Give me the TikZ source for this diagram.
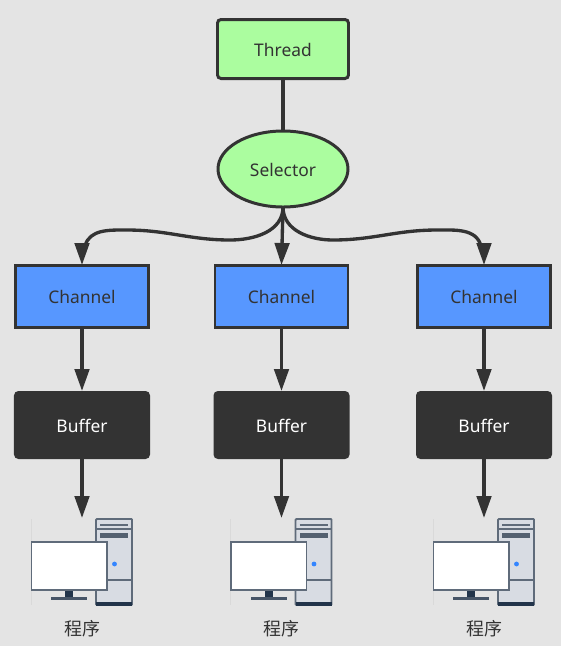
\documentclass[tikz,border=0pt]{standalone}
\usepackage{fontspec}
\setmainfont{Noto Sans}
\newfontfamily\cjk{Noto Sans CJK SC}
\usetikzlibrary{shapes.geometric, arrows.meta, positioning}
\definecolor{bggrey}{HTML}{E4E4E4}
\definecolor{ink}{HTML}{333333}
\definecolor{mint}{HTML}{ABFD9F}
\definecolor{azure}{HTML}{5797FF}
\definecolor{slate}{HTML}{5F6B7A}
\definecolor{navy}{HTML}{22344A}
\definecolor{tower}{HTML}{D8DCE3}
\tikzstyle{arrow} = [line width=1.9pt,draw=ink,-{Triangle[length=0.44cm,width=0.29cm]}]
\tikzstyle{link} = [line width=1.9pt,draw=ink]
\tikzstyle{base} = [outer sep=0pt,inner sep=0pt,text height=8.5pt,text depth=0pt,font=\fontsize{9.9}{12}\selectfont,text=ink]
\tikzstyle{thread} = [base,draw=ink,line width=1.7pt,fill=mint,rounded corners=2pt,minimum width=2.62cm,minimum height=1.18cm]
\tikzstyle{selector} = [base,ellipse,draw=ink,line width=1.7pt,fill=mint,minimum width=2.6cm,minimum height=1.52cm]
\tikzstyle{channel} = [base,draw=ink,line width=1.7pt,fill=azure,minimum width=2.66cm,minimum height=1.24cm]
\tikzstyle{buffer} = [base,fill=ink,text=white,rounded corners=2.5pt,minimum width=2.72cm,minimum height=1.36cm]
\tikzstyle{host} = [base,minimum width=2.04cm,minimum height=1.74cm]
\tikzstyle{caption} = [base,font=\fontsize{10.2}{12}\selectfont\cjk]
\tikzset{
  computer/.pic={
    \begin{scope}[x=0.02cm,y=-0.02cm]
      \draw[black!15,line width=0.5pt] (0,1) -- (0,87);
      \draw[slate,fill=tower,line width=1.1pt,rounded corners=0.5pt] (65,1) rectangle (101,87);
      \draw[slate,line width=0.8pt] (65,11) -- (101,11);
      \draw[slate,line width=0.8pt] (65,62) -- (101,62);
      \draw[slate,line width=1.3pt] (69,7) -- (97,7);
      \fill[slate!80!navy] (69,15) rectangle (97,19.5);
      \fill[navy] (65,84) rectangle (101,87.5);
      \fill[blue!60!cyan!80] (83.5,46) circle (2.4);
      \draw[slate,fill=white,line width=1.1pt] (0.5,24) rectangle (76,72);
      \fill[navy] (34,73) rectangle (42,79);
      \fill[slate!60!navy] (20,79) rectangle (56,81.5);
    \end{scope}
  }
}
\begin{document}
\begin{tikzpicture}
    \useasboundingbox[fill=bggrey] (0,0) rectangle (11.22,-12.92);
    \node[thread] (T) at (5.66,-0.98) {Thread};
    \node[selector, below of=T, node distance=2.4cm] (S) {Selector};
    \node[channel, below of=S, xshift=-0.03cm, node distance=2.54cm] (C2) {Channel};
    \node[channel, left of=C2, node distance=3.99cm] (C1) {Channel};
    \node[channel, right of=C2, node distance=4.05cm] (C3) {Channel};
    \node[buffer, below of=C1, node distance=2.58cm] (B1) {Buffer};
    \node[buffer, below of=C2, node distance=2.58cm] (B2) {Buffer};
    \node[buffer, below of=C3, node distance=2.58cm] (B3) {Buffer};
    \node[host, below of=B1, node distance=2.73cm] (P1) {};
    \node[host, below of=B2, node distance=2.73cm] (P2) {};
    \node[host, below of=B3, node distance=2.73cm] (P3) {};
    \node[caption, below of=P1, node distance=1.33cm] (N1) {程序};
    \node[caption, below of=P2, node distance=1.33cm] (N2) {程序};
    \node[caption, below of=P3, node distance=1.33cm] (N3) {程序};
    \pic at (P1.north west) {computer};
    \pic at (P2.north west) {computer};
    \pic at (P3.north west) {computer};
    \coordinate (L1) at (4.6,-4.8);
    \coordinate (L2) at (2.54,-4.6);
    \coordinate (L3) at (1.7,-4.92);
    \coordinate (R1) at (6.66,-4.8);
    \coordinate (R2) at (8.74,-4.6);
    \coordinate (R3) at (9.62,-4.92);
    \coordinate[above=0.44cm of C1.north] (H1);
    \coordinate[above=0.44cm of C3.north] (H3);
    \draw[link] (T) -- (S);
    \draw[link] (S.south) to[out=-90,in=0] (L1) to[out=180,in=0] (L2) to[out=180,in=75] (L3);
    \draw[arrow] (H1) -- (C1.north);
    \draw[arrow] (S.south) -- (C2.north);
    \draw[link] (S.south) to[out=-90,in=180] (R1) to[out=0,in=180] (R2) to[out=0,in=105] (R3);
    \draw[arrow] (H3) -- (C3.north);
    \draw[arrow] (C1) -- (B1);
    \draw[arrow] (C2) -- (B2);
    \draw[arrow] (C3) -- (B3);
    \draw[arrow] (B1) -- (P1.north);
    \draw[arrow] (B2) -- (P2.north);
    \draw[arrow] (B3) -- (P3.north);
\end{tikzpicture}
\end{document}
